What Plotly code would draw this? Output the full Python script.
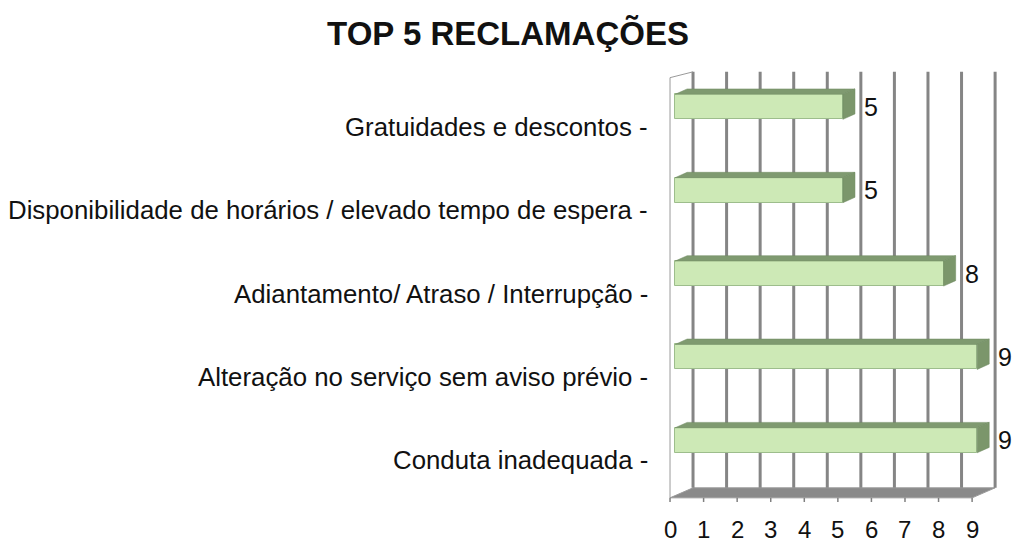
import plotly.graph_objects as go

# ---- data ----
categories = [
    "Gratuidades e descontos",
    "Disponibilidade de horários / elevado tempo de espera",
    "Adiantamento/ Atraso / Interrupção",
    "Alteração no serviço sem aviso prévio",
    "Conduta inadequada",
]
values = [5, 5, 8, 9, 9]
tick_values = [0, 1, 2, 3, 4, 5, 6, 7, 8, 9]
title_text = "TOP 5 RECLAMAÇÕES"

# ---- style constants (pseudo-3D) ----
FONT = "Liberation Sans, Arial, sans-serif"
BAR_W = 0.3
DX, DY = 0.36, 0.065           # bar depth offset (x units, category units)
WALL_DX, WALL_DY = 0.685, 0.12  # back wall offset
FLOOR_X0 = -0.15                # front floor origin
WALL_TOP, WALL_BOT = -0.42, 4.57
GRID = "#858585"

idx = list(range(len(categories)))

fig = go.Figure()

# front faces
fig.add_trace(go.Bar(
    x=values, y=idx, orientation="h", width=BAR_W,
    marker=dict(color="#cde9b6", line=dict(color="#9dbd8c", width=1)),
    hoverinfo="skip", showlegend=False,
))

# depth faces (top and right side) derived from values
for i, v in zip(idx, values):
    top = i - BAR_W / 2
    bot = i + BAR_W / 2
    fig.add_trace(go.Scatter(
        x=[0, v, v + DX, DX, 0], y=[top, top, top - DY, top - DY, top],
        fill="toself", mode="lines", line=dict(color="#6f8a60", width=0.5),
        fillcolor="#7f9a70", hoverinfo="skip", showlegend=False))
    fig.add_trace(go.Scatter(
        x=[v, v + DX, v + DX, v, v], y=[top, top - DY, bot - DY, bot, top],
        fill="toself", mode="lines", line=dict(color="#6f8a60", width=0.5),
        fillcolor="#7b966b", hoverinfo="skip", showlegend=False))

shapes = []
# floor
shapes.append(dict(
    type="path", xref="x", yref="y", layer="below",
    path=(f"M {FLOOR_X0},{WALL_BOT + WALL_DY} L {FLOOR_X0 + tick_values[-1]},{WALL_BOT + WALL_DY} "
          f"L {FLOOR_X0 + tick_values[-1] + WALL_DX},{WALL_BOT} L {FLOOR_X0 + WALL_DX},{WALL_BOT} Z"),
    fillcolor="#8a8a8a", line=dict(color="#9a9a9a", width=1)))
# back wall gridlines
for t in tick_values:
    xb = FLOOR_X0 + t + WALL_DX
    shapes.append(dict(type="line", xref="x", yref="y", layer="below",
                       x0=xb, x1=xb, y0=WALL_TOP, y1=WALL_BOT,
                       line=dict(color=GRID, width=3)))
    # floor tick marks
    xf = FLOOR_X0 + t
    shapes.append(dict(type="line", xref="x", yref="y", layer="below",
                       x0=xf, x1=xf, y0=WALL_BOT + WALL_DY, y1=WALL_BOT + WALL_DY + 0.05,
                       line=dict(color="#808080", width=1.5)))
# left wall front edge
shapes.append(dict(type="line", xref="x", yref="y", layer="below",
                   x0=FLOOR_X0, x1=FLOOR_X0, y0=WALL_TOP + 0.07, y1=WALL_BOT + WALL_DY,
                   line=dict(color="#9a9a9a", width=1)))
shapes.append(dict(type="line", xref="x", yref="y", layer="below",
                   x0=FLOOR_X0, x1=FLOOR_X0 + WALL_DX, y0=WALL_TOP + 0.07, y1=WALL_TOP,
                   line=dict(color="#9a9a9a", width=1)))

annotations = []
# category labels
for i, c in zip(idx, categories):
    annotations.append(dict(
        text=c + " -", xref="paper", yref="y", x=0, y=i + 0.24,
        xanchor="right", yanchor="middle", xshift=-15, showarrow=False,
        font=dict(family=FONT, size=25.8, color="#111111")))
# value labels
for i, v in zip(idx, values):
    annotations.append(dict(
        text=str(v), xref="x", yref="y", x=v + DX, y=i,
        xanchor="left", yanchor="middle", xshift=7, showarrow=False,
        font=dict(family=FONT, size=25, color="#111111")))
# x tick labels
for t in tick_values:
    annotations.append(dict(
        text=str(t), xref="x", yref="paper", x=FLOOR_X0 + t, y=-0.0504,
        xanchor="center", yanchor="middle", showarrow=False,
        font=dict(family=FONT, size=24, color="#111111")))

fig.update_layout(
    width=1014, height=544,
    margin=dict(l=665, r=10, t=61, b=37, autoexpand=False),
    paper_bgcolor="white", plot_bgcolor="white",
    title=dict(text=f"<b>{title_text}</b>", x=508 / 1014, xanchor="center",
               y=1 - 33 / 544, yanchor="middle",
               font=dict(family=FONT, size=33, color="#111111")),
    xaxis=dict(range=[-0.3, 9.8], showgrid=False, zeroline=False,
               showticklabels=False, showline=False, fixedrange=True),
    yaxis=dict(range=[4.8, -0.55], showgrid=False, zeroline=False,
               showticklabels=False, showline=False, fixedrange=True),
    shapes=shapes, annotations=annotations,
    bargap=0,
)

fig.write_html("out.html", config={"displayModeBar": False},
               post_script="document.body.style.margin='0px';")
